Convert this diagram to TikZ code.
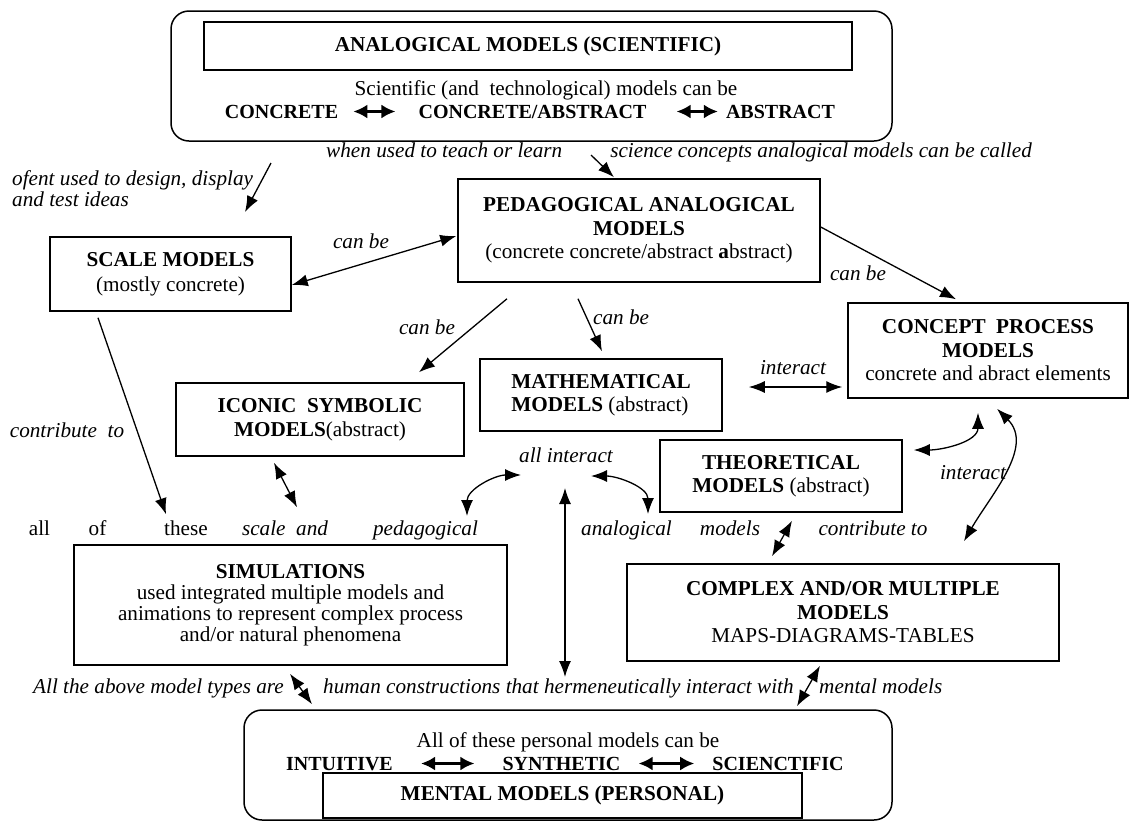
\documentclass[tikz,border=0pt]{standalone}
\usepackage{fontspec}
\setmainfont{Liberation Serif}
\usetikzlibrary{arrows.meta, positioning, calc}
\newcommand{\figfont}{\fontsize{21.2}{23.5}\selectfont}
\newcommand{\rowfont}{\fontsize{20}{23.5}\selectfont}

\begin{document}
\begin{tikzpicture}[
    x=1pt, y=-1pt,
    every node/.style={font=\figfont},
    box/.style={draw, line width=1.5pt, align=center, inner sep=0pt},
    roundbox/.style={draw, line width=1.5pt, rounded corners=18pt},
    word/.style={inner sep=0pt, anchor=base},
    lbl/.style={inner sep=0pt, anchor=base, font=\figfont\itshape},
    arr/.style={-{Latex[length=16pt,width=12pt]}, line width=1.3pt},
    dbl/.style={{Latex[length=16pt,width=12pt]}-{Latex[length=16pt,width=12pt]}, line width=1.3pt},
    rowarr/.style={{Latex[length=14pt,width=14pt]}-{Latex[length=14pt,width=14pt]}, line width=2.5pt}
]
\useasboundingbox (0,0) rectangle (1133,823);

    % Analogical models (scientific)
    \node[roundbox, minimum width=721, minimum height=130] (anasci) at (531.5,76) {};
    \node[box, minimum width=648, minimum height=48] (anatitle) at (528,46) {\textbf{ANALOGICAL MODELS (SCIENTIFIC)}};
    \node[word] (scitext) at (546,95) {Scientific (and\ \ technological) models can be};
    \node[word, font=\rowfont] (conc) at (281.5,118) {\textbf{CONCRETE}};
    \node[word, font=\rowfont] (concabs) at (532.5,118) {\textbf{CONCRETE/ABSTRACT}};
    \node[word, font=\rowfont] (abs) at (780.5,118) {\textbf{ABSTRACT}};
    \draw[rowarr, shorten <=15pt, shorten >=23pt] ([yshift=6.5pt]conc.base east) -- ([yshift=6.5pt]concabs.base west);
    \draw[rowarr, shorten <=30pt, shorten >=8pt] ([yshift=6.5pt]concabs.base east) -- ([yshift=6.5pt]abs.base west);

    \node[lbl, anchor=base west] (teach) at (326,157) {when used to teach or learn};
    \node[lbl, anchor=base east] (called) at (1032,157) {science concepts analogical models can be called};
    \node[lbl, anchor=west, align=left, font=\fontsize{21.2}{21}\selectfont\itshape] (ofent) at (12,189) {ofent used to design, display\\and test ideas};

    % Boxes
    \node[box, minimum width=362, minimum height=103] (pedag) at (639,230.5) {\textbf{PEDAGOGICAL ANALOGICAL}\\\textbf{MODELS}\\(concrete concrete/abstract \textbf{a}bstract)};
    \node[box, minimum width=241, minimum height=74, font=\fontsize{21.2}{25}\selectfont] (scale) at (170.5,274) {\textbf{SCALE MODELS}\\(mostly concrete)};
    \node[box, minimum width=280, minimum height=95] (concept) at (988,350.5) {\textbf{CONCEPT\ \ PROCESS}\\\textbf{MODELS}\\concrete and abract elements};
    \node[box, minimum width=242, minimum height=72, align=left] (math) at (601,395) {\textbf{MATHEMATICAL}\\\textbf{MODELS} (abstract)};
    \node[box, minimum width=288, minimum height=73] (iconic) at (320,419.5) {\textbf{ICONIC\ \ SYMBOLIC}\\\textbf{MODELS}(abstract)};
    \node[box, minimum width=242, minimum height=72] (theo) at (781,476) {\textbf{THEORETICAL}\\\textbf{MODELS} (abstract)};
    \node[box, minimum width=433, minimum height=120, font=\fontsize{21.2}{21}\selectfont] (sim) at (290.5,605) {\textbf{SIMULATIONS}\\used integrated multiple models and\\animations to represent complex process\\and/or natural phenomena};
    \node[box, minimum width=432, minimum height=97] (complex) at (843,612.5) {\textbf{COMPLEX AND/OR MULTIPLE}\\\textbf{MODELS}\\MAPS-DIAGRAMS-TABLES};

    % Labels
    \node[lbl] (canbe1) at (361,248) {can be};
    \node[lbl] (canbe2) at (858,280) {can be};
    \node[lbl] (canbe3) at (427,334) {can be};
    \node[lbl, anchor=base west] (canbe4) at (593,324) {can be};
    \node[lbl] (interact1) at (793,374) {interact};
    \node[lbl] (contrib1) at (67,437) {contribute\ \ to};
    \node[lbl] (allint) at (566,462) {all interact};
    \node[lbl] (interact2) at (973,479) {interact};

    % all of these ... contribute to
    \node[word] (wall) at (39.5,535) {all};
    \node[word] (wof) at (97.5,535) {of};
    \node[word] (wthese) at (186,535) {these};
    \node[lbl] (wscale) at (285,535) {scale\ \ and};
    \node[lbl] (wpeda) at (425.5,535) {pedagogical};
    \node[lbl] (wanalog) at (626.5,535) {analogical};
    \node[lbl] (wmodels) at (730,535) {models};
    \node[lbl] (wcontrib) at (873,535) {contribute to};

    % All the above ...
    \node[lbl, anchor=base west] (above) at (33,693) {All the above model types are};
    \node[lbl, anchor=base west] (human) at (323,693) {human constructions that hermeneutically interact with};
    \node[lbl, anchor=base west] (mental) at (819,693) {mental models};

    % Mental models (personal)
    \node[roundbox, minimum width=648, minimum height=110] (pers) at (568,765) {};
    \node[word] (perstext) at (568,747) {All of these personal models can be};
    \node[word, font=\rowfont] (intu) at (339.5,770) {\textbf{INTUITIVE}};
    \node[word, font=\rowfont] (synth) at (561.5,770) {\textbf{SYNTHETIC}};
    \node[word, font=\rowfont] (scien) at (778,770) {\textbf{SCIENCTIFIC}};
    \draw[rowarr, shorten <=28pt, shorten >=28pt] ([yshift=6.5pt]intu.base east) -- ([yshift=6.5pt]synth.base west);
    \draw[rowarr, shorten <=18pt, shorten >=18pt] ([yshift=6.5pt]synth.base east) -- ([yshift=6.5pt]scien.base west);
    \node[box, minimum width=479, minimum height=45, fill=white] (persin) at (562.5,795.5) {\textbf{MENTAL MODELS (PERSONAL)}};

    % Free ends
    \coordinate (callpt) at (591,155);
    \coordinate (ofentpt) at (271,163);
    \coordinate (ofenttip) at (245,212);
    \coordinate (vtop) at (565,488);
    \coordinate (vbot) at (565,677);
    \coordinate (arcl1) at (467,516);
    \coordinate (arcl2) at (521,475);
    \coordinate (arcr1) at (591,476);
    \coordinate (arcr2) at (648,514);

    % Connectors
    \draw[arr] (callpt) -- ([shift={(-25,-1)}]pedag.north);
    \draw[arr] (ofentpt) -- (ofenttip);
    \draw[dbl] ([shift={(0,11)}]scale.east) -- ([shift={(-1,5.5)}]pedag.west);
    \draw[arr] ([shift={(0,-3.5)}]pedag.east) -- ([shift={(-32,-3)}]concept.north);
    \draw[arr] ([shift={(-132,16)}]pedag.south) -- ([shift={(99,-10)}]iconic.north);
    \draw[arr] ([shift={(-61,16)}]pedag.south) -- ([shift={(1,-7)}]math.north);
    \draw[dbl] ([shift={(26,-8)}]math.east) -- ([shift={(-5,36.5)}]concept.west);
    \draw[arr] ([shift={(-72.5,6)}]scale.south) -- ([shift={(-124.5,-30)}]sim.north);
    \draw[dbl] ([shift={(-46,6)}]iconic.south) -- ([shift={(6.5,-37)}]sim.north);
    \draw[dbl] (arcl1) to[out=90, in=180] (arcl2);
    \draw[dbl] (arcr1) to[out=0, in=90] (arcr2);
    \draw[dbl] (vtop) -- (vbot);
    \draw[dbl] ([shift={(11,-26)}]theo.east) to[out=0, in=-90] ([shift={(-10,14)}]concept.south);
    \draw[dbl] ([shift={(9,10)}]concept.south) to[out=-45, in=60] ([shift={(121,-22)}]complex.north);
    \draw[dbl] ([shift={(11,8)}]theo.south) -- ([shift={(-71,-7)}]complex.north);
    \draw[dbl] ([shift={(-0.5,8)}]sim.south) -- ([shift={(-256,-5)}]pers.north);
    \draw[dbl] ([shift={(-23,4)}]complex.south) -- ([shift={(229,-3)}]pers.north);
\end{tikzpicture}
\end{document}
